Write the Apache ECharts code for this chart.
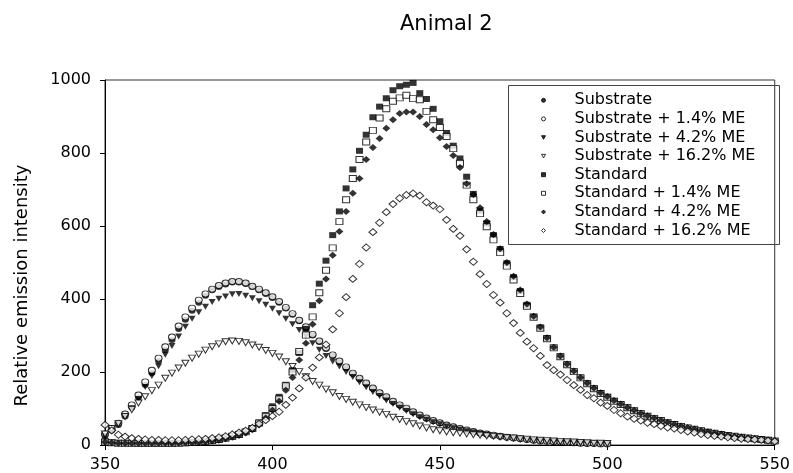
<!DOCTYPE html>
<html>
<head>
<meta charset="utf-8">
<script src="https://cdn.jsdelivr.net/npm/echarts@6/dist/echarts.min.js"></script>
<style>
html,body{margin:0;padding:0;background:#fff;}
#chart{width:793px;height:473px;}
</style>
</head>
<body>
<div id="chart"></div>
<script>
// Wavelengths (nm)
const wavelengths = [350,352,354,356,358,360,362,364,366,368,370,372,374,376,378,380,382,384,386,388,390,392,394,396,398,400,402,404,406,408,410,412,414,416,418,420,422,424,426,428,430,432,434,436,438,440,442,444,446,448,450,452,454,456,458,460,462,464,466,468,470,472,474,476,478,480,482,484,486,488,490,492,494,496,498,500,502,504,506,508,510,512,514,516,518,520,522,524,526,528,530,532,534,536,538,540,542,544,546,548,550];

// Substrate series (350-500 nm)
const substrate = [25,40,55,78,103,130,165,197,230,260,288,318,343,368,390,409,424,433,440,445,445,441,433,424,414,403,390,374,357,339,320,300,282,263,244,227,211,195,181,168,154,141,130,118,108,99,89,80,72,65,59,54,49,44,40,36,32,29,26,23,21,19,17,15,13,11,10,9,8,7,6,5,4,4,3,3];
const substrate14 = [30,45,60,85,110,137,173,205,238,269,296,326,351,375,397,414,427,437,444,448,448,444,435,427,417,406,393,377,360,342,324,303,285,266,247,230,214,197,183,170,156,143,132,120,110,101,91,82,74,67,61,55,50,45,41,37,33,30,27,24,21,19,17,15,13,11,10,9,8,7,6,5,4,4,3,3];
const substrate42 = [25,38,55,78,101,126,159,189,216,247,271,297,324,346,364,379,392,401,407,413,414,409,402,394,384,373,361,346,331,315,298,279,261,244,229,215,200,186,172,158,145,134,122,112,102,93,84,76,69,62,57,51,46,42,38,34,31,28,25,22,20,18,16,14,12,11,10,9,8,7,6,5,4,4,3,3];
const substrate162 = [30,45,58,78,97,115,132,149,164,183,197,211,224,238,249,260,269,277,283,285,284,280,274,268,259,251,241,228,215,201,187,174,164,153,143,133,125,117,110,103,96,90,84,76,70,64,58,52,47,42,39,36,34,32,30,28,27,25,24,22,20,19,17,16,14,13,12,11,10,9,8,7,6,5,5,4];

// Standard series (350-550 nm)
const standard = [10,7,6,5,5,4,4,4,4,4,4,5,5,6,7,9,11,14,18,23,29,36,46,62,82,106,132,165,205,252,318,383,442,505,575,640,703,755,806,850,898,927,950,972,983,987,992,964,948,921,887,855,820,785,735,688,642,607,575,537,498,460,422,384,352,322,293,267,243,221,202,185,169,155,142,132,121,112,103,94,87,79,73,67,61,57,52,47,43,39,36,32,29,26,24,22,19,17,16,14,11];
const standard14 = [8,6,5,5,5,5,5,5,5,5,5,5,6,7,8,10,12,15,19,24,29,36,45,60,79,100,126,162,200,256,301,351,417,479,540,612,672,730,782,830,862,896,921,942,951,958,949,946,914,891,870,845,812,772,712,672,634,598,562,527,490,452,415,380,350,320,291,266,242,220,201,184,168,154,141,131,120,111,102,94,86,79,73,67,61,56,51,47,43,39,35,32,29,26,24,21,19,17,15,13,11];
const standard42 = [8,6,5,5,5,5,5,5,5,5,5,5,6,6,7,9,11,13,17,21,26,33,42,55,74,95,120,150,185,233,279,331,395,455,520,585,640,690,730,782,815,840,868,891,908,912,912,900,878,864,842,818,793,760,716,686,650,612,577,538,500,462,425,386,353,323,294,268,244,222,203,185,170,156,143,133,122,112,103,95,87,80,74,68,62,57,52,48,44,40,36,33,30,27,24,22,20,18,16,14,12];
const standard162 = [55,40,28,23,19,17,15,14,14,13,13,13,14,15,16,17,19,21,24,29,34,39,47,58,68,79,91,110,130,155,185,212,240,275,317,361,405,455,496,541,583,609,638,660,676,685,689,683,665,656,646,617,592,573,536,502,468,441,411,390,361,334,307,283,265,244,219,205,193,178,164,151,137,128,116,107,96,87,78,72,67,61,57,52,48,45,41,37,34,30,27,25,23,21,19,17,16,15,14,12,10];

const seriesNames = ['Substrate','Substrate + 1.4% ME','Substrate + 4.2% ME','Substrate + 16.2% ME','Standard','Standard + 1.4% ME','Standard + 4.2% ME','Standard + 16.2% ME'];
const xTicks = [350,400,450,500,550];
const yTicks = [0,200,400,600,800,1000];

function pairs(vals){ return vals.map((v,i)=>[wavelengths[i], v]); }

const FONT = 'DejaVu Sans';
const downTri = 'path://M0,0L10,0L5,9Z';
const filled = {color:'#000', borderColor:'#000', borderWidth:0};
const hollow = {color:'#fff', borderColor:'#000', borderWidth:1};

const styles = [
  {symbol:'circle', size:[7,6], item:filled},
  {symbol:'circle', size:[7,6], item:hollow},
  {symbol:downTri, size:[7,6], item:filled},
  {symbol:downTri, size:[7,6], item:hollow},
  {symbol:'rect', size:[7,6], item:filled},
  {symbol:'rect', size:[7,6], item:hollow},
  {symbol:'diamond', size:[8,7], item:filled},
  {symbol:'diamond', size:[8,7], item:hollow}
];
const dataSets = [substrate, substrate14, substrate42, substrate162, standard, standard14, standard42, standard162];

const chart = echarts.init(document.getElementById('chart'), null, {renderer:'canvas'});
chart.setOption({
  animation:false,
  backgroundColor:'#fff',
  title:{
    text:'Animal 2', left:395, top:9,
    textStyle:{fontFamily:FONT, fontSize:21, fontWeight:'normal', color:'#000'}
  },
  grid:{left:105, right:15, top:80, bottom:28, show:true, borderColor:'#333', borderWidth:1, backgroundColor:'transparent'},
  xAxis:{
    type:'value', min:350, max:550, interval:50,
    axisLine:{lineStyle:{color:'#000', width:1}},
    axisTick:{show:true, inside:false, length:5, lineStyle:{color:'#000'}},
    axisLabel:{fontFamily:FONT, fontSize:16, color:'#000', margin:12,
      formatter:v=> xTicks.indexOf(v) >= 0 ? String(v) : ''},
    splitLine:{show:false}
  },
  yAxis:{
    type:'value', min:0, max:1000, interval:200,
    name:'Relative emission intensity', nameLocation:'middle', nameRotate:90, nameGap:74,
    nameTextStyle:{fontFamily:FONT, fontSize:18, color:'#000', padding:[0,46,0,0]},
    axisLine:{show:true, lineStyle:{color:'#000', width:1}},
    axisTick:{show:true, inside:false, length:5, lineStyle:{color:'#000'}},
    axisLabel:{fontFamily:FONT, fontSize:16, color:'#000', margin:14,
      formatter:v=> yTicks.indexOf(v) >= 0 ? String(v) : ''},
    splitLine:{show:false}
  },
  legend:{
    orient:'vertical', left:541, top:91, padding:0, itemGap:0,
    itemWidth:4, itemHeight:4, symbolKeepAspect:true,
    itemStyle:{borderWidth:1},
    textStyle:{fontFamily:FONT, fontSize:16, color:'#000', lineHeight:18.6, padding:[0,0,0,24]},
    data:seriesNames, selectedMode:false
  },
  graphic:[{
    type:'rect', left:506, top:83, z:100, silent:true,
    shape:{x:0,y:0,width:271,height:159},
    style:{fill:'none', stroke:'#444', lineWidth:1}
  }],
  series: dataSets.map((d,i)=>({
    name:seriesNames[i], type:'scatter',
    symbol:styles[i].symbol, symbolSize:styles[i].size,
    itemStyle:styles[i].item,
    data:pairs(d), z:2+i
  }))
});
</script>
</body>
</html>
